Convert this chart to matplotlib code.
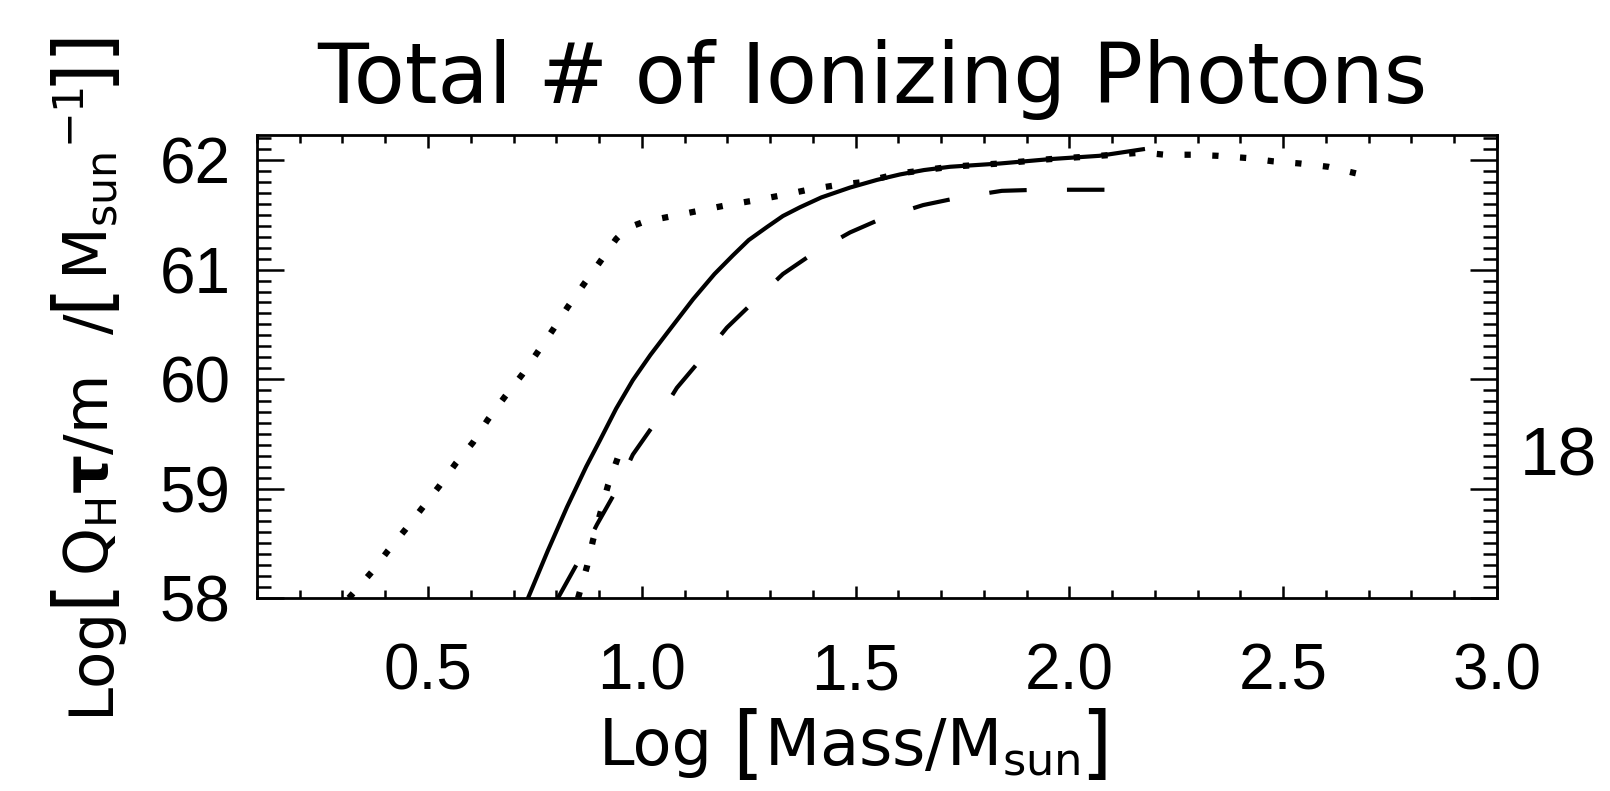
import numpy as np
import matplotlib
matplotlib.use('Agg')
from matplotlib import pyplot as plt
from matplotlib.ticker import MultipleLocator, FormatStrFormatter
from matplotlib.transforms import IdentityTransform

# values (log mass, log photons)
solid_x = [0.734, 0.78, 0.825, 0.87, 0.902, 0.94, 0.979, 1.02, 1.059, 1.12, 1.17,
           1.213, 1.25, 1.293, 1.33, 1.37, 1.42, 1.487, 1.55, 1.604, 1.66, 1.721,
           1.838, 1.955, 2.07, 2.172]
solid_y = [58.0, 58.43, 58.83, 59.2, 59.44, 59.73, 59.99, 60.22, 60.42, 60.73, 60.96,
           61.13, 61.27, 61.39, 61.49, 61.57, 61.66, 61.75, 61.82, 61.87, 61.91, 61.94,
           61.97, 62.01, 62.04, 62.10]

dash_x = [0.804, 0.851, 0.895, 0.937, 0.979, 1.031, 1.082, 1.136, 1.199, 1.26, 1.33,
          1.405, 1.487, 1.569, 1.658, 1.744, 1.842, 1.926, 2.02, 2.116]
dash_y = [58.0, 58.33, 58.67, 58.96, 59.31, 59.6, 59.92, 60.17, 60.47, 60.7, 60.96,
          61.16, 61.34, 61.48, 61.59, 61.66, 61.72, 61.73, 61.73, 61.73]

dot_x = [0.315, 0.369, 0.406, 0.448, 0.486, 0.526, 0.565, 0.605, 0.64, 0.68, 0.72,
         0.757, 0.792, 0.827, 0.865, 0.902, 0.94, 0.965, 1.007, 1.073, 1.136, 1.2,
         1.26, 1.328, 1.389, 1.452, 1.517, 1.604, 1.721, 1.838, 1.955, 2.07, 2.172,
         2.223, 2.287, 2.347, 2.415, 2.476, 2.539, 2.605, 2.67]
dot_y = [58.0, 58.24, 58.43, 58.63, 58.82, 59.02, 59.23, 59.42, 59.63, 59.84, 60.04,
         60.25, 60.45, 60.66, 60.87, 61.07, 61.28, 61.38, 61.44, 61.49, 61.54, 61.59,
         61.63, 61.68, 61.73, 61.77, 61.8, 61.88, 61.94, 61.97, 62.01, 62.04, 62.07,
         62.05, 62.05, 62.04, 62.02, 61.99, 61.97, 61.94, 61.88]

# short dotted piece next to the dashed curve
dot2_x = [0.851, 0.872, 0.886, 0.921, 0.942, 0.958]
dot2_y = [58.0, 58.29, 58.53, 59.03, 59.26, 59.45]

plt.rcParams['font.family'] = ['DejaVu Sans']
plt.rcParams['mathtext.fontset'] = 'dejavusans'
plt.rcParams['lines.scale_dashes'] = False

fig = plt.figure(figsize=(16.1, 7.91), dpi=100)
ax = fig.add_axes([0.1596, 0.2440, 0.7702, 0.5853])

ax.plot(solid_x, solid_y, color='black', lw=3)
ax.plot(dash_x, dash_y, color='black', lw=3, linestyle=(0, (27, 29)), dash_capstyle='butt')
ax.plot(dot_x, dot_y, color='black', lw=4.5, linestyle=(0, (4.5, 15.5)), dash_capstyle='butt')
ax.plot(dot2_x, dot2_y, color='black', lw=4.5, linestyle=(0, (4.5, 15.5)), dash_capstyle='butt')

ax.set_xlim(0.1, 3.0)
ax.set_ylim(58, 62.23)
ax.xaxis.set_major_locator(MultipleLocator(0.5))
ax.xaxis.set_minor_locator(MultipleLocator(0.1))
ax.yaxis.set_major_locator(MultipleLocator(1))
ax.yaxis.set_minor_locator(MultipleLocator(0.1))
ax.xaxis.set_major_formatter(FormatStrFormatter('%.1f'))

ax.tick_params(which='both', direction='in', top=True, right=True, width=1.8, color='black')
ax.tick_params(axis='x', which='major', length=9, pad=32)
ax.tick_params(axis='x', which='minor', length=6)
ax.tick_params(axis='y', which='major', length=19.5, pad=19)
ax.tick_params(axis='y', which='minor', length=10)
for lab in ax.get_xticklabels() + ax.get_yticklabels():
    lab.set_family('Liberation Sans')
    lab.set_fontsize(46)
for s in ax.spines.values():
    s.set_linewidth(2)

fig.text(0.5419, 0.8698, 'Total # of Ionizing Photons', ha='center', va='baseline', fontsize=60)


def label_pieces(pieces, center, base, vertical=False):
    # lay text pieces end to end (in pixels), so the brackets can be bigger
    r = fig.canvas.get_renderer()
    made = []
    for s, size, shift, gap in pieces:
        t = fig.text(0, 0, s, fontsize=size, ha='left', va='baseline',
                     rotation=90 if vertical else 0, rotation_mode='anchor',
                     transform=IdentityTransform())
        bb = t.get_window_extent(r)
        made.append((t, shift, (bb.height if vertical else bb.width) + gap))
    pos = center - sum(m[2] for m in made) / 2
    for t, shift, w in made:
        if vertical:
            t.set_position((base - shift, pos))
        else:
            t.set_position((pos, base + shift))
        pos += w


fs = 46
bk = 58
label_pieces([('Log', fs, 0, 20),
              ('[', bk, -4, 0),
              (r'$\mathrm{Mass/M_{sun}}$', fs, 0, 0),
              (']', bk, -4, 0)],
             center=855, base=26)

fs = 44
bk = 55
label_pieces([('Log', fs, 0, 0),
              ('[', bk, 6, 0),
              (r'$\mathrm{Q_H}\mathbf{\tau}\mathrm{/m}\ \ \mathrm{/}$', fs, 0, 2),
              ('[', bk, 6, 0),
              (r'$\mathrm{M_{sun}}^{-1}$', fs, 0, 2),
              (']', bk, 6, 0),
              (']', bk, 6, 0)],
             center=791 - 370, base=108, vertical=True)

fig.text(0.9677, 0.4222, '18', ha='center', va='center', fontsize=50, family='Liberation Sans')

fig.savefig('out.png', dpi=100, facecolor='white')
